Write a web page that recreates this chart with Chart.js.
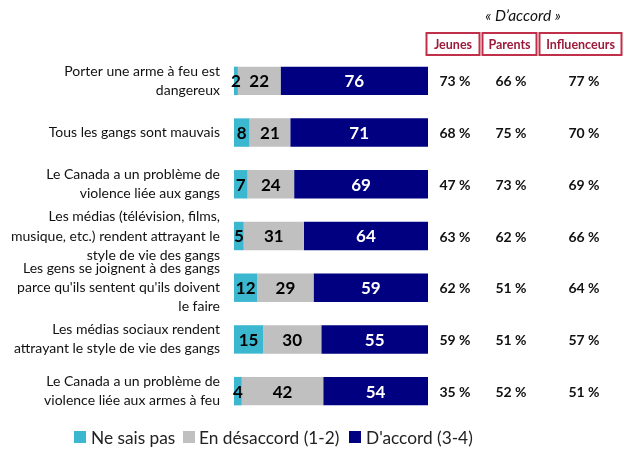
<!DOCTYPE html>
<html><head><meta charset="utf-8">
<script src="https://cdn.jsdelivr.net/npm/chart.js@4/dist/chart.umd.min.js"></script>
<style>html,body{margin:0;padding:0;background:#fff}#wrap{width:624px;height:468px;position:relative}</style>
</head><body><div id="wrap"><canvas id="c" width="624" height="468"></canvas></div>
<script>
const categories = [
  ["Porter une arme à feu est", "dangereux"],
  "Tous les gangs sont mauvais",
  ["Le Canada a un problème de", "violence liée aux gangs"],
  ["Les médias (télévision, films,", "musique, etc.) rendent attrayant le", "style de vie des gangs"],
  ["Les gens se joignent à des gangs", "parce qu'ils sentent qu'ils doivent", "le faire"],
  ["Les médias sociaux rendent", "attrayant le style de vie des gangs"],
  ["Le Canada a un problème de", "violence liée aux armes à feu"]
];
const seriesNames = ["Ne sais pas", "En désaccord (1-2)", "D'accord (3-4)"];
const neSaisPas = [2, 8, 7, 5, 12, 15, 4];
const enDesaccord = [22, 21, 24, 31, 29, 30, 42];
const dAccord = [76, 71, 69, 64, 59, 55, 54];
const columnHeaders = ["Jeunes", "Parents", "Influenceurs"];
const jeunes = [73, 68, 47, 63, 62, 59, 35];
const parents = [66, 75, 73, 62, 51, 51, 52];
const influenceurs = [77, 70, 69, 66, 64, 57, 51];
const headerTitle = "« D’accord »";

const FONT = "Lato, Calibri, sans-serif";
const colors = ["#3bb8d0", "#c0c0c0", "#000080"];
const labelColors = ["#000", "#000", "#fff"];

const overlay = {
  id: 'overlay',
  afterDatasetsDraw(chart) {
    const ctx = chart.ctx;
    ctx.save();
    // segment labels
    chart.data.datasets.forEach((ds, di) => {
      const meta = chart.getDatasetMeta(di);
      meta.data.forEach((bar, i) => {
        const v = ds.data[i];
        const cx = (bar.x + bar.base) / 2;
        ctx.font = "bold 17px " + FONT;
        ctx.fillStyle = labelColors[di];
        ctx.textAlign = 'center';
        ctx.textBaseline = 'middle';
        ctx.fillText(String(v), cx, bar.y + 1);
      });
    });
    // right columns
    const yS = chart.scales.y;
    const cols = [jeunes, parents, influenceurs];
    const colX = [455, 511, 584];
    ctx.font = "bold 14px " + FONT;
    ctx.fillStyle = "#111";
    cols.forEach((arr, ci) => {
      arr.forEach((v, i) => {
        ctx.fillText(v + " %", colX[ci], yS.getPixelForValue(i) + 1);
      });
    });
    // headers
    const boxes = [[426, 480], [482, 537], [539, 622]];
    ctx.strokeStyle = "#c0304a";
    ctx.lineWidth = 2;
    ctx.font = "bold 12.5px " + FONT;
    boxes.forEach((b, i) => {
      ctx.strokeRect(b[0] + 0.5, 33, b[1] - b[0] - 1, 22);
      ctx.fillStyle = "#9c1a3a";
      ctx.fillText(columnHeaders[i], (b[0] + b[1]) / 2, 44.5);
    });
    ctx.font = "italic 15.5px " + FONT;
    ctx.fillStyle = "#111";
    ctx.fillText(headerTitle, 523, 16);
    // legend
    const leg = [[74, 91], [183, 199], [349, 366]];
    ctx.font = "17.3px " + FONT;
    ctx.textAlign = 'left';
    leg.forEach((p, i) => {
      ctx.fillStyle = colors[i];
      ctx.fillRect(p[0], 431, 12, 12);
      ctx.fillStyle = "#222";
      ctx.fillText(seriesNames[i], p[1], 438);
    });
    ctx.restore();
  }
};

new Chart(document.getElementById('c'), {
  type: 'bar',
  data: {
    labels: categories,
    datasets: [
      { label: seriesNames[0], data: neSaisPas, backgroundColor: colors[0] },
      { label: seriesNames[1], data: enDesaccord, backgroundColor: colors[1] },
      { label: seriesNames[2], data: dAccord, backgroundColor: colors[2] }
    ]
  },
  options: {
    indexAxis: 'y',
    responsive: false,
    animation: false,
    devicePixelRatio: 1,
    layout: { padding: { left: 0, right: 196, top: 55, bottom: 51 } },
    datasets: { bar: { categoryPercentage: 1, barPercentage: 0.55 } },
    scales: {
      x: { stacked: true, min: 0, max: 100, display: false },
      y: {
        stacked: true,
        grid: { display: false },
        border: { display: false },
        ticks: { font: { family: FONT, size: 14, lineHeight: 1.36 }, color: "#111", padding: 6, autoSkip: false },
        afterFit(s) { s.width = 234; }
      }
    },
    plugins: { legend: { display: false }, tooltip: { enabled: false } }
  },
  plugins: [overlay]
});
</script></body></html>
